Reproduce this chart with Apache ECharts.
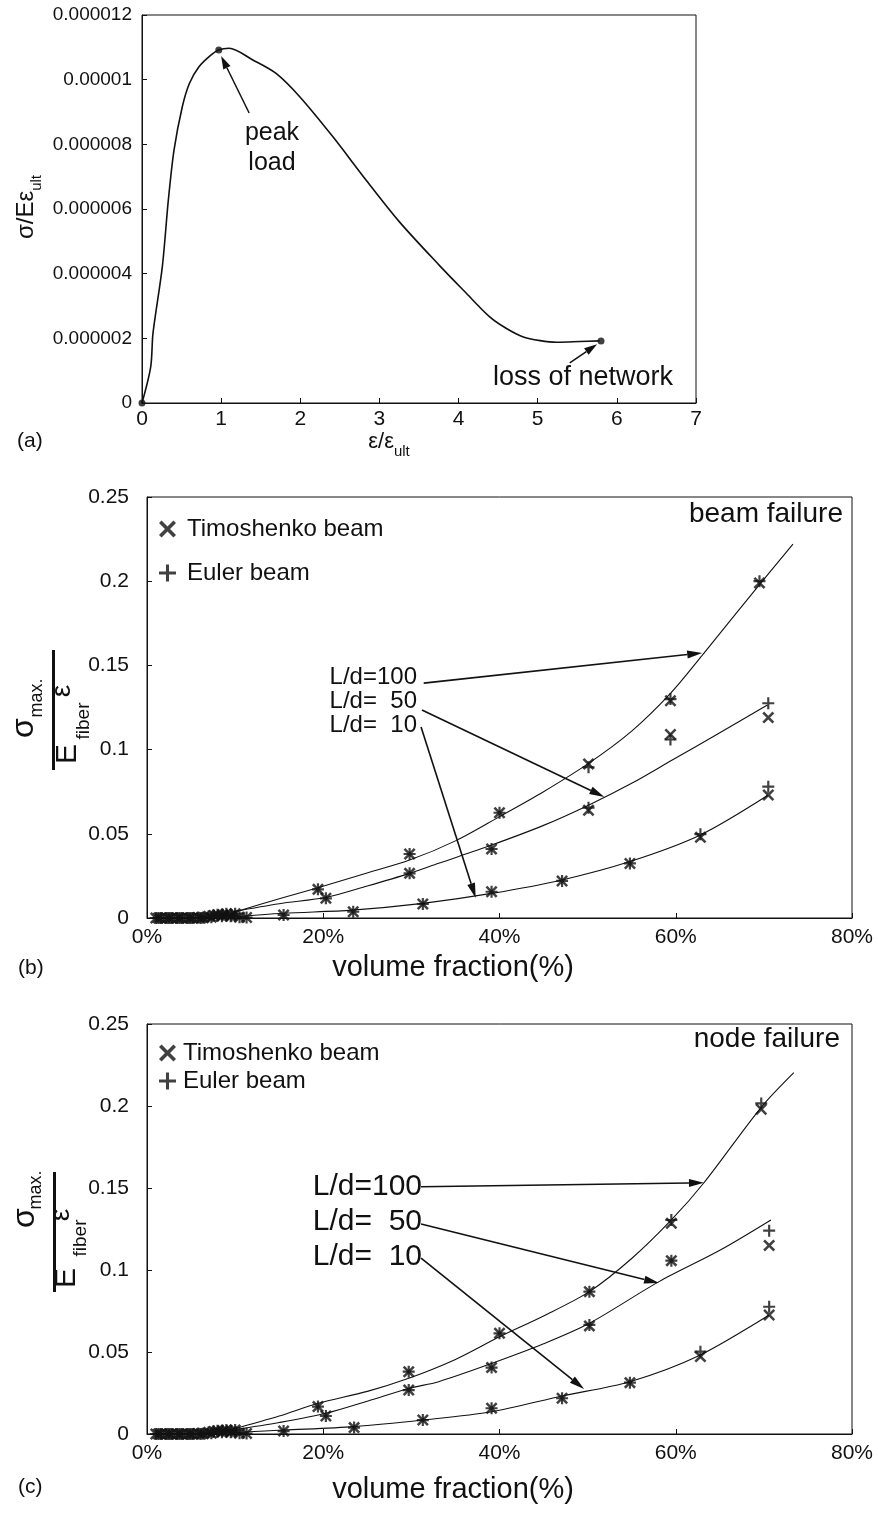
<!DOCTYPE html>
<html><head><meta charset="utf-8">
<script src="https://cdn.jsdelivr.net/npm/echarts@6/dist/echarts.min.js"></script>
<style>html,body{margin:0;padding:0;background:#fff}#c{width:878px;height:1521px}</style>
</head><body><div id="c"></div>
<script>
// ---------- Panel (a): normalised stress-strain curve ----------
const aCurveX = [0, 0.11, 0.139, 0.257, 0.333, 0.405, 0.51, 0.60, 0.72, 0.87, 0.97, 1.10, 1.40, 1.69, 1.99, 2.41, 2.83, 3.25, 3.76, 4.08, 4.39, 4.60, 4.81, 5.03, 5.24, 5.53, 5.78];
const aCurveY = [0, 1.12e-6, 2.16e-6, 4.22e-6, 6.28e-6, 7.83e-6, 9.17e-6, 9.89e-6, 10.40e-6, 10.76e-6, 10.92e-6, 10.97e-6, 10.61e-6, 10.2e-6, 9.48e-6, 8.24e-6, 6.9e-6, 5.61e-6, 4.25e-6, 3.44e-6, 2.67e-6, 2.31e-6, 2.05e-6, 1.93e-6, 1.88e-6, 1.90e-6, 1.92e-6];
const aMarkX = [0, 0.97, 5.8];
const aMarkY = [0, 10.92e-6, 1.92e-6];
const aXTicks = [0, 1, 2, 3, 4, 5, 6, 7];
// arrows: [tailX, tailY, headX, headY]
const aArrows = [[1.354, 8.97e-6, 1.0, 10.73e-6], [5.405, 1.24e-6, 5.75, 1.82e-6]];

// ---------- Panel (b): beam failure ----------
const bX100 = [1.0, 2.2, 3.4, 4.6, 5.8, 7.0, 8.0, 9.0, 10.0, 19.4, 29.8, 40.0, 50.1, 59.4, 69.5];
const bT100 = [0, 0, 0, 0, 0.0003, 0.001, 0.002, 0.0025, 0.0025, 0.017, 0.038, 0.0625, 0.0915, 0.129, 0.199];
const bE100 = [0, 0, 0, 0, 0.0003, 0.001, 0.002, 0.0025, 0.0025, 0.017, 0.038, 0.0625, 0.0895, 0.130, 0.200];
const bX50 = [1.6, 2.8, 4.0, 5.2, 6.4, 7.6, 8.6, 9.6, 20.3, 29.8, 39.1, 50.1, 59.4, 70.5];
const bT50 = [0, 0, 0, 0, 0.0002, 0.0015, 0.002, 0.0015, 0.0117, 0.0265, 0.041, 0.064, 0.109, 0.119];
const bE50 = [0, 0, 0, 0, 0.0002, 0.0015, 0.002, 0.0015, 0.0117, 0.0265, 0.041, 0.0655, 0.106, 0.1275];
const bX10 = [1.3, 2.5, 3.7, 4.9, 6.1, 7.3, 8.5, 9.5, 10.5, 11.3, 15.5, 23.4, 31.3, 39.1, 47.1, 54.8, 62.8, 70.5];
const bT10 = [0, 0, 0, 0, 0, 0.0005, 0.001, 0.001, 0.0005, 0.0003, 0.0018, 0.0037, 0.0083, 0.0156, 0.022, 0.0324, 0.0479, 0.073];
const bE10 = [0, 0, 0, 0, 0, 0.0005, 0.001, 0.001, 0.0005, 0.0003, 0.0018, 0.0037, 0.0083, 0.0156, 0.022, 0.0324, 0.0498, 0.078];
const bFit100X = [9.6, 15.4, 19.4, 24.5, 29.8, 35.0, 40.0, 45.0, 50.1, 55.0, 59.4, 63.0, 69.5, 73.3];
const bFit100Y = [0.003, 0.012, 0.018, 0.026, 0.0344, 0.0458, 0.0602, 0.075, 0.0918, 0.111, 0.1334, 0.156, 0.198, 0.222];
const bFit50X = [9.7, 15.0, 20.4, 25.0, 29.8, 33.1, 39.1, 45.0, 50.1, 55.0, 59.6, 65.0, 70.4];
const bFit50Y = [0.0037, 0.0085, 0.0123, 0.019, 0.0265, 0.0325, 0.0433, 0.055, 0.067, 0.08, 0.0938, 0.11, 0.1265];
const bFit10X = [9.3, 15.5, 23.3, 31.3, 39.1, 47.1, 54.8, 62.8, 70.5];
const bFit10Y = [0.0004, 0.0028, 0.0047, 0.0087, 0.0146, 0.0226, 0.0335, 0.0493, 0.073];
const bArrows = [[31.4, 0.1395, 63.0, 0.1574], [31.2, 0.1235, 51.9, 0.0719], [31.1, 0.1134, 37.3, 0.0119]];

// ---------- Panel (c): node failure ----------
const cX100 = [1.0, 2.2, 3.4, 4.6, 5.8, 7.0, 8.0, 9.0, 10.0, 19.4, 29.7, 40.0, 50.2, 59.5, 69.7];
const cT100 = [0, 0, 0, 0, 0.0003, 0.001, 0.002, 0.0025, 0.0025, 0.0167, 0.038, 0.0614, 0.0868, 0.1285, 0.198];
const cE100 = [0, 0, 0, 0, 0.0003, 0.001, 0.002, 0.0025, 0.0025, 0.0167, 0.038, 0.0614, 0.0868, 0.1305, 0.2016];
const cX50 = [1.6, 2.8, 4.0, 5.2, 6.4, 7.6, 8.6, 9.6, 20.3, 29.7, 39.1, 50.2, 59.5, 70.6];
const cT50 = [0, 0, 0, 0, 0.0002, 0.0015, 0.002, 0.0015, 0.011, 0.0268, 0.0405, 0.0659, 0.1057, 0.115];
const cE50 = [0, 0, 0, 0, 0.0002, 0.0015, 0.002, 0.0015, 0.011, 0.0268, 0.0405, 0.0665, 0.1057, 0.124];
const cX10 = [1.3, 2.5, 3.7, 4.9, 6.1, 7.3, 8.5, 9.5, 10.5, 11.3, 15.5, 23.5, 31.3, 39.1, 47.1, 54.8, 62.8, 70.6];
const cT10 = [0, 0, 0, 0, 0, 0.0005, 0.001, 0.001, 0.0005, 0.0003, 0.0018, 0.0039, 0.0085, 0.0157, 0.0218, 0.0313, 0.0472, 0.0726];
const cE10 = [0, 0, 0, 0, 0, 0.0005, 0.001, 0.001, 0.0005, 0.0003, 0.0018, 0.0039, 0.0085, 0.0157, 0.0218, 0.0313, 0.0502, 0.0776];
const cFit100X = [9.7, 15.0, 19.4, 25.0, 29.7, 35.0, 40.0, 45.0, 50.2, 55.0, 59.5, 63.2, 69.7, 73.4];
const cFit100Y = [0.0029, 0.011, 0.0187, 0.026, 0.034, 0.0455, 0.0593, 0.072, 0.0868, 0.107, 0.1305, 0.1532, 0.1992, 0.2203];
const cFit50X = [9.7, 15.0, 20.3, 25.0, 29.7, 33.1, 39.1, 45.0, 50.2, 58.1, 65.0, 70.8];
const cFit50Y = [0.0024, 0.007, 0.0126, 0.02, 0.0278, 0.0319, 0.043, 0.055, 0.0675, 0.0929, 0.112, 0.1305];
const cFit10X = [9.3, 15.5, 23.5, 31.3, 39.1, 47.1, 54.8, 62.8, 70.6];
const cFit10Y = [0.0008, 0.0024, 0.0045, 0.0085, 0.0136, 0.0232, 0.0319, 0.0482, 0.0726];
const cArrows = [[31.1, 0.1508, 63.2, 0.1532], [31.1, 0.128, 58.1, 0.092], [31.1, 0.1073, 49.6, 0.0274]];

const ldLabels = ['L/d=100', 'L/d=  50', 'L/d=  10'];
const legendNames = ['Timoshenko beam', 'Euler beam'];

// ---------- build ----------
const FONT = 'Liberation Sans';
const INK = '#111';
const X_PATH = 'path://M0,1.5L1.5,0L5,3.5L8.5,0L10,1.5L6.5,5L10,8.5L8.5,10L5,6.5L1.5,10L0,8.5L3.5,5Z';
const P_PATH = 'path://M4.1,0H5.9V4.1H10V5.9H5.9V10H4.1V5.9H0V4.1H4.1Z';
const zip = (xs, ys) => xs.map((x, i) => [x, ys[i]]);

function arrowRender(headLen, headW, lw) {
  return function (params, api) {
    const p1 = api.coord([api.value(0), api.value(1)]);
    const p2 = api.coord([api.value(2), api.value(3)]);
    const dx = p2[0] - p1[0], dy = p2[1] - p1[1];
    const len = Math.hypot(dx, dy), ux = dx / len, uy = dy / len;
    const bx = p2[0] - ux * headLen, by = p2[1] - uy * headLen;
    const nx = -uy * headW / 2, ny = ux * headW / 2;
    return { type: 'group', children: [
      { type: 'line', shape: { x1: p1[0], y1: p1[1], x2: bx, y2: by }, style: { stroke: INK, lineWidth: lw } },
      { type: 'polygon', shape: { points: [[p2[0], p2[1]], [bx + nx, by + ny], [bx - nx, by - ny]] }, style: { fill: INK } }
    ]};
  };
}

function txt(x, y, text, size, align, vAlign, extra) {
  return Object.assign({ type: 'text', x: x, y: y, silent: true, z: 50,
    style: { text: text, fontSize: size, fontFamily: FONT, fill: INK,
      align: align, verticalAlign: vAlign, textAlign: align, textVerticalAlign: vAlign } }, extra || {});
}
function rot(x, y, text, size) {
  return txt(x, y, text, size, 'center', 'middle', { rotation: Math.PI / 2 });
}

const gridBase = { show: true, borderColor: INK, borderWidth: 1, backgroundColor: 'transparent', containLabel: false };
const axisLineCfg = { show: true, lineStyle: { color: INK, width: 1 } };
const tickCfg = { show: true, inside: true, length: 5, lineStyle: { color: INK } };

function pctX(gi) {
  return { type: 'value', gridIndex: gi, min: 0, max: 80, interval: 20,
    axisLine: axisLineCfg, axisTick: tickCfg, splitLine: { show: false },
    axisLabel: { formatter: '{value}%', fontSize: 21, color: INK, fontFamily: FONT, margin: 9 } };
}
function fracY(gi) {
  return { type: 'value', gridIndex: gi, min: 0, max: 0.25, interval: 0.05,
    axisLine: axisLineCfg, axisTick: tickCfg, splitLine: { show: false },
    axisLabel: { fontSize: 21, color: INK, fontFamily: FONT, margin: 18 } };
}

function panelSeries(gi, X100, T100, E100, X50, T50, E50, X10, T10, E10, f100, f50, f10, arrows) {
  const fitStyle = { type: 'line', xAxisIndex: gi, yAxisIndex: gi, showSymbol: false, smooth: 0.3,
    lineStyle: { color: INK, width: 1.1 }, silent: true, z: 2 };
  const mk = { type: 'scatter', xAxisIndex: gi, yAxisIndex: gi, symbolSize: 12, itemStyle: { color: INK }, silent: true, z: 4, clip: false };
  return [
    Object.assign({ name: 'fit100_' + gi, data: f100 }, fitStyle),
    Object.assign({ name: 'fit50_' + gi, data: f50 }, fitStyle),
    Object.assign({ name: 'fit10_' + gi, data: f10 }, fitStyle),
    Object.assign({ name: legendNames[0], symbol: X_PATH,
      data: zip(X100, T100).concat(zip(X50, T50), zip(X10, T10)) }, mk),
    Object.assign({ name: legendNames[1], symbol: P_PATH,
      data: zip(X100, E100).concat(zip(X50, E50), zip(X10, E10)) }, mk),
    { type: 'custom', xAxisIndex: gi, yAxisIndex: gi, data: arrows, renderItem: arrowRender(15, 8, 1.6),
      encode: { x: [0, 2], y: [1, 3] }, silent: true, clip: false, z: 6 }
  ];
}

const option = {
  animation: false,
  backgroundColor: '#fff',
  textStyle: { fontFamily: FONT, color: INK },
  grid: [
    Object.assign({ left: 142, top: 15, width: 554, height: 388 }, gridBase),
    Object.assign({ left: 147, top: 497, width: 705, height: 421 }, gridBase),
    Object.assign({ left: 147, top: 1024, width: 705, height: 410 }, gridBase)
  ],
  xAxis: [
    { type: 'value', gridIndex: 0, min: aXTicks[0], max: aXTicks[aXTicks.length - 1], interval: 1,
      axisLine: axisLineCfg, axisTick: tickCfg, splitLine: { show: false },
      axisLabel: { fontSize: 21, color: INK, fontFamily: FONT, margin: 6 } },
    pctX(1), pctX(2)
  ],
  yAxis: [
    { type: 'value', gridIndex: 0, min: 0, max: 0.000012, interval: 0.000002,
      axisLine: axisLineCfg, axisTick: tickCfg, splitLine: { show: false },
      axisLabel: { fontSize: 19, color: INK, fontFamily: FONT, margin: 10,
        formatter: v => (Math.abs(v) < 1e-12 ? '0' : String(parseFloat(v.toFixed(6)))) } },
    fracY(1), fracY(2)
  ],
  legend: [
    { left: 154, top: 512, orient: 'vertical', itemGap: 20, itemWidth: 17, itemHeight: 17, selectedMode: false,
      data: [{ name: legendNames[0], icon: X_PATH }, { name: legendNames[1], icon: P_PATH }],
      textStyle: { fontSize: 24, fontFamily: FONT, color: INK, padding: [0, 0, 0, 6] } },
    { left: 154, top: 1036, orient: 'vertical', itemGap: 4, itemWidth: 17, itemHeight: 17, selectedMode: false,
      data: [{ name: legendNames[0], icon: X_PATH }, { name: legendNames[1], icon: P_PATH }],
      textStyle: { fontSize: 24, fontFamily: FONT, color: INK, padding: [0, 0, 0, 2] } }
  ],
  graphic: [
    // panel (a)
    { type: 'text', x: 29, y: 207, rotation: Math.PI / 2, silent: true,
      style: { text: '{a|σ/Eε}{b|ult}', fill: INK, align: 'center', verticalAlign: 'middle', textAlign: 'center', textVerticalAlign: 'middle',
        rich: { a: { fontSize: 24, fontFamily: FONT, fill: INK, padding: [0, 0, 6, 0] }, b: { fontSize: 15, fontFamily: FONT, fill: INK, verticalAlign: 'bottom' } } } },
    { type: 'text', x: 389, y: 445, silent: true,
      style: { text: '{a|ε/ε}{b|ult}', fill: INK, align: 'center', verticalAlign: 'middle', textAlign: 'center', textVerticalAlign: 'middle',
        rich: { a: { fontSize: 22, fontFamily: FONT, fill: INK, padding: [0, 0, 6, 0] }, b: { fontSize: 15, fontFamily: FONT, fill: INK, verticalAlign: 'bottom' } } } },
    txt(17, 441, '(a)', 21, 'left', 'middle'),
    txt(272, 133, 'peak', 25, 'center', 'middle'),
    txt(272, 163, 'load', 25, 'center', 'middle'),
    txt(493, 378, 'loss of network', 27, 'left', 'middle'),
    // panel (b)
    txt(843, 514, 'beam failure', 28, 'right', 'middle'),
    txt(417, 677, ldLabels[0], 24, 'right', 'middle'),
    txt(417, 701, ldLabels[1], 24, 'right', 'middle'),
    txt(417, 725, ldLabels[2], 24, 'right', 'middle'),
    txt(453, 968, 'volume fraction(%)', 29, 'center', 'middle'),
    txt(18, 968, '(b)', 21, 'left', 'middle'),
    rot(24, 728, 'σ', 32), rot(37, 698, 'max.', 18), rot(62, 691, 'ε', 28),
    { type: 'rect', silent: true, shape: { x: 52, y: 650, width: 3, height: 120 }, style: { fill: INK } },
    rot(68, 754, 'E', 30), rot(84, 721, 'fiber', 19),
    // panel (c)
    txt(840, 1039, 'node failure', 28, 'right', 'middle'),
    txt(422, 1187, ldLabels[0], 30, 'right', 'middle'),
    txt(422, 1222, ldLabels[1], 30, 'right', 'middle'),
    txt(422, 1257, ldLabels[2], 30, 'right', 'middle'),
    txt(453, 1490, 'volume fraction(%)', 29, 'center', 'middle'),
    txt(18, 1487, '(c)', 21, 'left', 'middle'),
    rot(25, 1218, 'σ', 32), rot(36, 1190, 'max.', 18), rot(61, 1215, 'ε', 28),
    { type: 'rect', silent: true, shape: { x: 53, y: 1172, width: 3, height: 120 }, style: { fill: INK } },
    rot(67, 1278, 'E', 30), rot(81, 1238, 'fiber', 19)
  ],
  series: [
    { type: 'line', xAxisIndex: 0, yAxisIndex: 0, data: zip(aCurveX, aCurveY), showSymbol: false,
      smooth: 0.3, lineStyle: { color: INK, width: 1.6 }, silent: true },
    { type: 'scatter', xAxisIndex: 0, yAxisIndex: 0, data: zip(aMarkX, aMarkY), symbol: 'circle', symbolSize: 7,
      itemStyle: { color: INK }, silent: true, clip: false, z: 4 },
    { type: 'custom', xAxisIndex: 0, yAxisIndex: 0, data: aArrows, renderItem: arrowRender(13, 8, 1.5),
      encode: { x: [0, 2], y: [1, 3] }, silent: true, clip: false, z: 6 }
  ].concat(
    panelSeries(1, bX100, bT100, bE100, bX50, bT50, bE50, bX10, bT10, bE10,
      zip(bFit100X, bFit100Y), zip(bFit50X, bFit50Y), zip(bFit10X, bFit10Y), bArrows),
    panelSeries(2, cX100, cT100, cE100, cX50, cT50, cE50, cX10, cT10, cE10,
      zip(cFit100X, cFit100Y), zip(cFit50X, cFit50Y), zip(cFit10X, cFit10Y), cArrows)
  )
};

const chart = echarts.init(document.getElementById('c'), null, { renderer: 'canvas' });
chart.setOption(option);
</script>
</body></html>
